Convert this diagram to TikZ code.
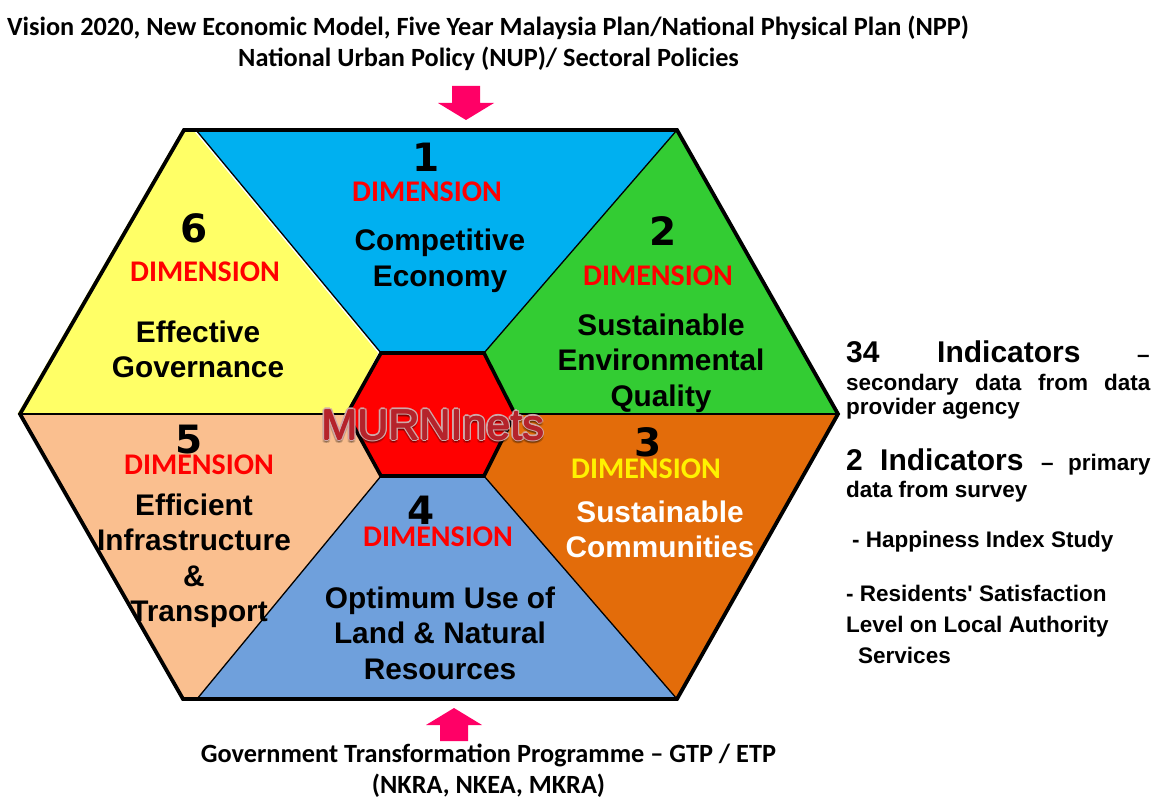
\documentclass[tikz,border=0pt]{standalone}
\usepackage{fontspec}
\setmainfont{Liberation Sans}
\newfontfamily\carlitofont{Carlito}
\newfontfamily\numfont{DejaVu Sans}
\begin{document}
\begin{tikzpicture}[x=1pt,y=-1pt,
  head/.style={font=\carlitofont\bfseries\fontsize{26.3}{30}\selectfont,inner sep=0pt,align=center,anchor=center},
  dim/.style={font=\carlitofont\bfseries\fontsize{30}{30}\selectfont,text=red,inner sep=0pt,anchor=center},
  num/.style={font=\numfont\bfseries\fontsize{39}{40}\selectfont,inner sep=0pt,anchor=center},
  lab/.style={font=\bfseries\fontsize{29.8}{35.5}\selectfont,inner sep=0pt,align=center,anchor=center},
  side/.style={font=\bfseries\fontsize{22.5}{25}\selectfont,inner sep=0pt,anchor=base west},
  bigside/.style={font=\bfseries\fontsize{30}{30}\selectfont,inner sep=0pt,anchor=base west},
  arrowfill/.style={fill=arrowpink,draw=none},
  spoke/.style={black,line width=1.3pt},
  logo/.style={font=\fontsize{43}{44}\selectfont,inner sep=0pt,anchor=center}]
\definecolor{arrowpink}{HTML}{FF0066}
\definecolor{cblue}{HTML}{00B0F0}
\definecolor{cgreen}{HTML}{33CC33}
\definecolor{cyellow}{HTML}{FFFF66}
\definecolor{cpeach}{HTML}{FABF8F}
\definecolor{corange}{HTML}{E36C0A}
\definecolor{cland}{HTML}{6FA0DC}
\definecolor{logored}{HTML}{B5232B}
\definecolor{logoedge}{HTML}{CFA8A8}
\useasboundingbox (0,0) rectangle (1153,799);
\fill[white] (0,0) rectangle (1153,799);
% sectors
\fill[cyellow] (182,130) -- (193,130) -- (378,353) -- (347,414) -- (17.5,414) -- cycle;
\fill[cpeach] (19,414) -- (347,414) -- (381,476) -- (197,699) -- (183,699) -- cycle;
\fill[cland] (197,699) -- (381,476) -- (484,476) -- (677,699) -- cycle;
\fill[corange] (677,699) -- (484,476) -- (515,414) -- (838,414) -- cycle;
\fill[cgreen] (838,414) -- (515,414) -- (484,353) -- (677,130) -- cycle;
\fill[cblue] (677,130) -- (484,353) -- (381,353) -- (196,130) -- cycle;
% spokes
\draw[spoke] (196,130) -- (381,353);
\draw[spoke] (381,476) -- (197,699);
\draw[spoke] (677,130) -- (484,353);
\draw[spoke] (484,476) -- (677,699);
\draw[spoke] (19,414) -- (347,414) (515,414) -- (838,414);
% outlines
\draw[black,line width=3.8pt,line join=miter] (184,130) -- (677,130) -- (838,414) -- (677,699) -- (183,699) -- (20,414) -- cycle;
\draw[fill=red,draw=black,line width=3.6pt] (381,353) -- (484,353) -- (515,414) -- (484,476) -- (381,476) -- (347,414) -- cycle;
% arrows
\fill[arrowfill] (452,86) -- (480,86) -- (480,103) -- (494,103) -- (466,120) -- (438,103) -- (452,103) -- cycle;
\fill[arrowfill] (440,741) -- (468,741) -- (468,725) -- (482,725) -- (454,708) -- (426,725) -- (440,725) -- cycle;
% header and footer
\node[head] (h1) at (488,28) {Vision 2020, New Economic Model, Five Year Malaysia Plan/National Physical Plan (NPP)};
\node[head] (h2) at (488.5,59) {National Urban Policy (NUP)/ Sectoral Policies};
\node[head] (f1) at (488.5,755) {Government Transformation Programme – GTP / ETP};
\node[head] (f2) at (488.5,786) {(NKRA, NKEA, MKRA)};
% dimensions
\node[num] (n1) at (426,157) {1};
\node[dim] (d1) at (427,192) {DIMENSION};
\node[lab] (l1) at (440,261) {Competitive\\Economy};
\node[num] (n2) at (663,231) {2};
\node[dim] (d2) at (658,276) {DIMENSION};
\node[lab] (l2) at (661,363) {Sustainable\\Environmental\\Quality};
\node[num] (n3) at (648,442) {3};
\node[dim,text=yellow] (d3) at (646,469) {DIMENSION};
\node[lab,text=white] (l3) at (660,529.5) {Sustainable\\Communities};
\node[num] (n4) at (421,510) {4};
\node[dim] (d4) at (438,537) {DIMENSION};
\node[lab] (l4) at (440,633) {Optimum Use of\\Land \& Natural\\Resources};
\node[num] (n5) at (189,440) {5};
\node[dim] (d5) at (199,465) {DIMENSION};
\node[lab] (l5) at (194,561) {Efficient\\Infrastructure\\\&\\\hspace*{10pt}Transport};
\node[num] (n6) at (194,228) {6};
\node[dim] (d6) at (205,272) {DIMENSION};
\node[lab] (l6) at (198,349.5) {Effective\\Governance};
% logo
\foreach \dx/\dy [count=\i] in {0/2.5,1/3.5,-1/3.5,2/3,-2/3}
  \node[logo,text=black,opacity=.14] (logoshadow\i) at (433+\dx,425+\dy) {MURNInets};
\foreach \dx/\dy [count=\i] in {-2/0,2/0,0/-2,0/2,-1.4/-1.4,1.4/-1.4,-1.4/1.4,1.4/1.4}
  \node[logo,text=logoedge] (logoedge\i) at (433+\dx,425+\dy) {MURNInets};
\foreach \dx/\dy [count=\i] in {-.5/0,.5/0,0/-.5,0/.5}
  \node[logo,text=logored] (logotext\i) at (433+\dx,425+\dy) {MURNInets};
% side text
\node[bigside] (s1a) at (846,362) {34};
\node[bigside] (s1b) at (937,362) {Indicators};
\node[side] (s1c) at (1137,362) {--};
\node[side] (s2a) at (846,390) {secondary};
\node[side] (s2b) at (975,390) {data};
\node[side] (s2c) at (1038,390) {from};
\node[side] (s2d) at (1104,390) {data};
\node[side] (s3) at (846,414) {provider agency};
\node[bigside] (s4a) at (846,470) {2};
\node[bigside] (s4b) at (880,470) {Indicators};
\node[side] (s4c) at (1041,470) {--};
\node[side] (s4d) at (1068,470) {primary};
\node[side] (s5) at (846,497) {data from survey};
\node[side] (s6) at (852,547) {- Happiness Index Study};
\node[side] (s7) at (846,601) {- Residents\textquotesingle\ Satisfaction};
\node[side] (s8) at (846,632) {Level on Local Authority};
\node[side] (s9) at (858,663) {Services};
\end{tikzpicture}
\end{document}
